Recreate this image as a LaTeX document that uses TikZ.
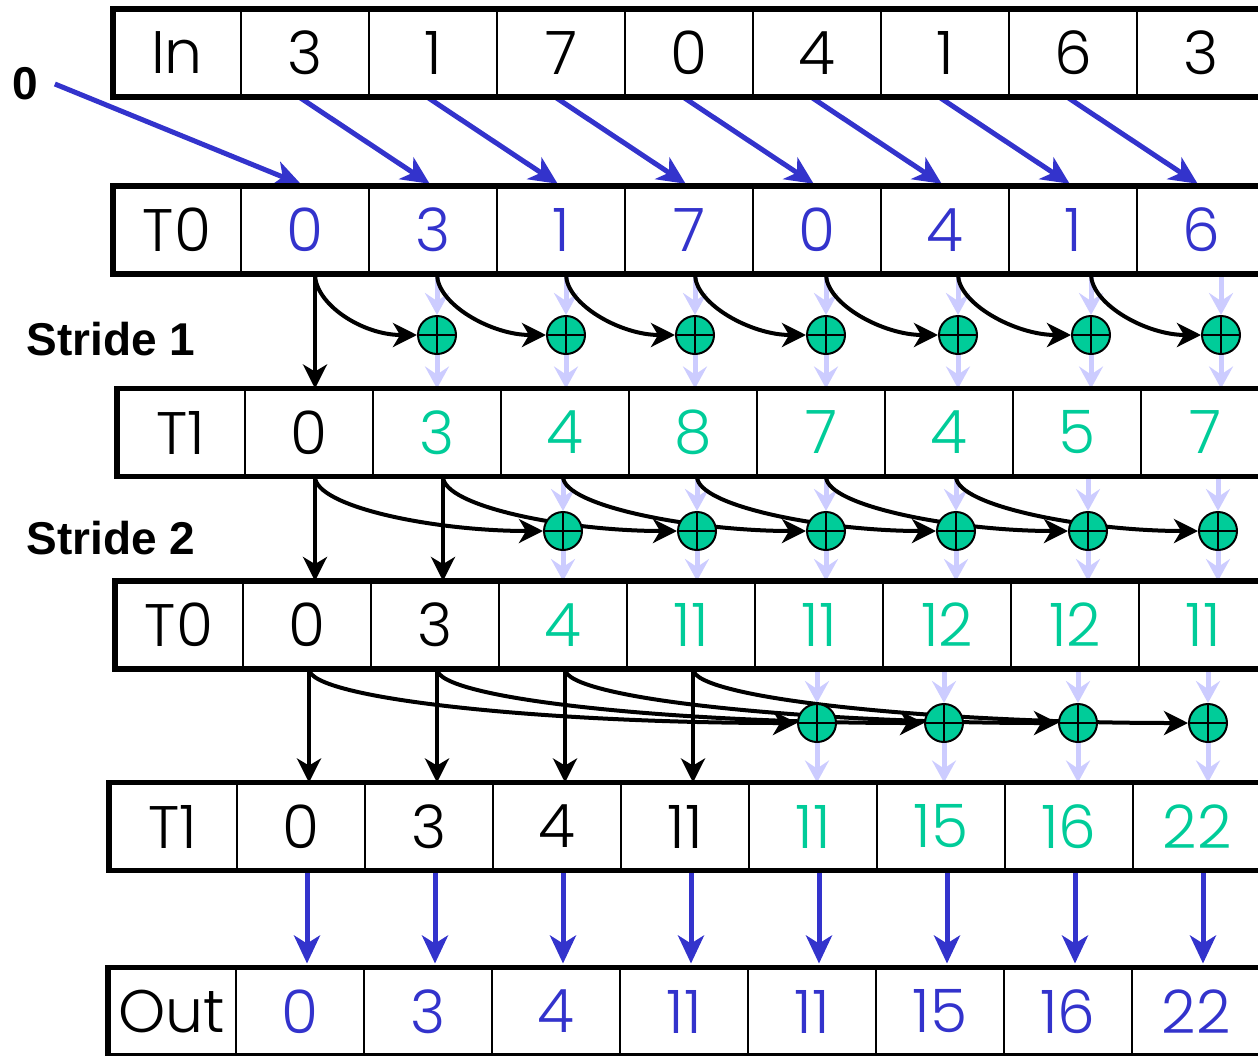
\documentclass[tikz,border=0pt]{standalone}
\usepackage{fontspec}
\setmainfont{Liberation Sans}
\newfontfamily\cellfont{Poppins Light}
\usepackage{xcolor}
\usetikzlibrary{arrows.meta, positioning, calc}
\definecolor{scanblue}{HTML}{3333CC}
\definecolor{scangreen}{HTML}{00CC99}
\definecolor{scanlight}{HTML}{CCCCFF}
\pgfdeclarelayer{background}
\pgfsetlayers{background,main}

\begin{document}
\begin{tikzpicture}[x=0.5pt, y=0.5pt]
% Define styles
\tikzstyle{cell} = [rectangle, draw=black, line width=1.2pt, minimum width=64pt, minimum height=44pt, inner sep=0pt, outer sep=0pt, font=\cellfont\fontsize{30}{30}\selectfont]
\tikzstyle{frame} = [line width=2.6pt, line join=miter]
\tikzstyle{adder} = [circle, draw=black, line width=1pt, fill=scangreen, minimum size=19pt, inner sep=0pt, path picture={\draw[line width=1pt] (path picture bounding box.north) -- (path picture bounding box.south) (path picture bounding box.west) -- (path picture bounding box.east);}]
\tikzstyle{copy} = [line width=2.5pt, draw=scanblue, -{Stealth[length=14pt, width=13pt, inset=4pt]}]
\tikzstyle{pass} = [line width=2pt, draw=black, -{Stealth[length=12pt, width=12pt, inset=3.5pt]}]
\tikzstyle{feed} = [line width=2.5pt, draw=scanlight, -{Stealth[length=11pt, width=12pt, inset=4pt]}]
\tikzstyle{stride} = [font=\bfseries\fontsize{23}{23}\selectfont]

\useasboundingbox (0,0) rectangle (1258,-1055);

% Rows
\node[cell] (in-l) at (177,-53) {In};
\foreach \v [count=\k from 0, remember=\k as \j (initially l)] in {3,1,7,0,4,1,6,3}
  \node[cell, right=0pt of in-\j] (in-\k) {\v};

\node[cell] (tz1-l) at (177,-230) {T0};
\foreach \v [count=\k from 0, remember=\k as \j (initially l)] in {0,3,1,7,0,4,1,6}
  \node[cell, text=scanblue, right=0pt of tz1-\j] (tz1-\k) {\v};

\node[cell] (to1-l) at (181,-432.5) {T1};
\foreach \v/\c [count=\k from 0, remember=\k as \j (initially l)] in {0/black,3/scangreen,4/scangreen,8/scangreen,7/scangreen,4/scangreen,5/scangreen,7/scangreen}
  \node[cell, text=\c, right=0pt of to1-\j] (to1-\k) {\v};

\node[cell] (tz2-l) at (179,-625) {T0};
\foreach \v/\c [count=\k from 0, remember=\k as \j (initially l)] in {0/black,3/black,4/scangreen,11/scangreen,11/scangreen,12/scangreen,12/scangreen,11/scangreen}
  \node[cell, text=\c, right=0pt of tz2-\j] (tz2-\k) {\v};

\node[cell] (to2-l) at (173,-826.5) {T1};
\foreach \v/\c [count=\k from 0, remember=\k as \j (initially l)] in {0/black,3/black,4/black,11/black,11/scangreen,15/scangreen,16/scangreen,22/scangreen}
  \node[cell, text=\c, right=0pt of to2-\j] (to2-\k) {\v};

\node[cell] (out-l) at (172,-1011.5) {Out};
\foreach \v [count=\k from 0, remember=\k as \j (initially l)] in {0,3,4,11,11,15,16,22}
  \node[cell, text=scanblue, right=0pt of out-\j] (out-\k) {\v};

\foreach \r in {in,tz1,to1,tz2,to2,out}
  \draw[frame] (\r-7.north east) -- (\r-l.north west) -- (\r-l.south west) -- (\r-7.south east);

% Labels
\node[stride] (zero) at (25,-84) {0};
\node[stride] (s1) at (111,-339) {Stride 1};
\node[stride] (s2) at (111,-538) {Stride 2};

% Adders
\foreach \x [count=\k] in {437,566,695,826,958,1091,1221}
  \node[adder] (sa-\k) at (\x,-335) {};
\foreach \x [count=\k from 2] in {563,697,826,956,1088,1218}
  \node[adder] (sb-\k) at (\x,-531) {};
\foreach \x [count=\k from 4] in {817,944,1078,1208}
  \node[adder] (sc-\k) at (\x,-723) {};

\begin{pgfonlayer}{background}
% Shift In into T0
\draw[copy, shorten >=2pt] ([xshift=5pt]zero.east) -- (tz1-0.north);
\foreach \k [remember=\k as \j (initially 0)] in {1,...,7}
  \draw[copy, shorten >=2pt] ([xshift=-3pt]in-\j.south) -- (tz1-\k.north);

% Stride 1
\coordinate (ca-0) at ([xshift=5pt]tz1-0.south);
\foreach \k in {1,...,7} {
  \coordinate (ca-\k) at (sa-\k |- tz1-\k.south);
  \draw[feed] (ca-\k) -- (sa-\k.north);
  \draw[feed] (sa-\k.south) -- (sa-\k |- to1-\k.north);
}
\draw[pass] (ca-0) -- (ca-0 |- to1-0.north);
\foreach \k [remember=\k as \j (initially 0)] in {1,...,7}
  \draw[pass] (ca-\j) .. controls +(0,-30) and +(-55,0) .. (sa-\k.west);

% Stride 2
\coordinate (cb-0) at ([xshift=3pt]to1-0.south);
\coordinate (cb-1) at ([xshift=3pt]to1-1.south);
\foreach \k in {2,...,7} {
  \coordinate (cb-\k) at (sb-\k |- to1-\k.south);
  \draw[feed] (cb-\k) -- (sb-\k.north);
  \draw[feed] (sb-\k.south) -- (sb-\k |- tz2-\k.north);
}
\foreach \k in {0,1}
  \draw[pass] (cb-\k) -- (cb-\k |- tz2-\k.north);
\foreach \k [evaluate=\k as \j using int(\k-2)] in {2,...,7}
  \draw[pass] (cb-\j) .. controls +(0,-30) and +(-110,0) .. (sb-\k.west);

% Stride 4
\foreach \k in {0,...,3} {
  \coordinate (cc-\k) at ([xshift=1pt]tz2-\k.south);
  \draw[pass] (cc-\k) -- (cc-\k |- to2-\k.north);
}
\foreach \k in {4,...,7} {
  \coordinate (cc-\k) at (sc-\k |- tz2-\k.south);
  \draw[feed] (cc-\k) -- (sc-\k.north);
  \draw[feed] (sc-\k.south) -- (sc-\k |- to2-\k.north);
}
\foreach \k [evaluate=\k as \j using int(\k-4)] in {4,...,7}
  \draw[pass] (cc-\j) .. controls +(0,-30) and +(-250,0) .. (sc-\k.west);

% Copy T1 to Out
\foreach \k in {0,...,7}
  \draw[copy, shorten >=2pt] ([xshift=3pt]to2-\k.south) -- ([xshift=3pt]to2-\k.south |- out-\k.north);
\end{pgfonlayer}

\end{tikzpicture}
\end{document}
